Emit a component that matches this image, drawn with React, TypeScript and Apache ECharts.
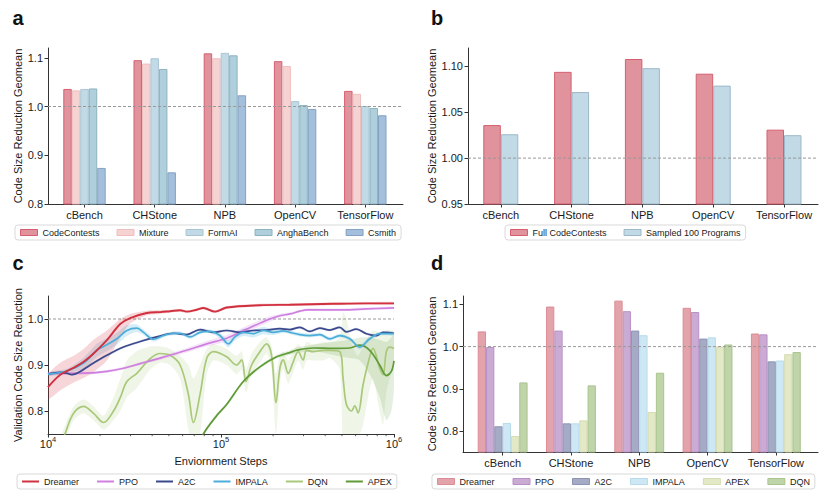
import React, { useEffect, useRef } from 'react';
import * as echarts from 'echarts';

// ---------------- data ----------------
const benchmarks = ['cBench', 'CHStone', 'NPB', 'OpenCV', 'TensorFlow'];

// panel a
const datasetNames = ['CodeContests', 'Mixture', 'FormAI', 'AnghaBench', 'Csmith'];
const codeContests = [1.036, 1.095, 1.109, 1.093, 1.032];
const mixture = [1.033, 1.088, 1.099, 1.083, 1.026];
const formAI = [1.036, 1.099, 1.110, 1.011, 1.001];
const anghaBench = [1.037, 1.077, 1.105, 1.003, 0.997];
const csmith = [0.874, 0.865, 1.023, 0.995, 0.982];

// panel b
const sampleNames = ['Full CodeContests', 'Sampled 100 Programs'];
const fullCodeContests = [1.036, 1.094, 1.108, 1.092, 1.031];
const sampled100 = [1.026, 1.072, 1.098, 1.079, 1.025];

// panel d
const barAlgoNames = ['Dreamer', 'PPO', 'A2C', 'IMPALA', 'APEX', 'DQN'];
const dreamerBar = [1.036, 1.095, 1.109, 1.092, 1.031];
const ppoBar = [0.999, 1.038, 1.084, 1.082, 1.029];
const a2cBar = [0.811, 0.818, 1.038, 1.019, 0.965];
const impalaBar = [0.819, 0.818, 1.027, 1.022, 0.967];
const apexBar = [0.788, 0.825, 0.845, 1.000, 0.982];
const dqnBar = [0.915, 0.908, 0.938, 1.005, 0.987];

// panel c : [steps, mean, lower, upper]
const lineAlgoNames = ['Dreamer', 'PPO', 'A2C', 'IMPALA', 'DQN', 'APEX'];
const dreamerCurve = [
  [10000, 0.852, 0.826, 0.878], [11780, 0.879, 0.845, 0.905], [14060, 0.894, 0.862, 0.92],
  [16060, 0.907, 0.872, 0.935], [18340, 0.925, 0.885, 0.955], [21900, 0.954, 0.91, 0.975],
  [26150, 0.989, 0.96, 1.0], [29850, 1.002, 0.99, 1.011], [37250, 1.013, 1.008, 1.018],
  [44470, 1.015, 1.011, 1.019], [50800, 1.017, 1.014, 1.02], [58010, 1.019, 1.016, 1.022],
  [63380, 1.016, 1.013, 1.019], [72380, 1.02, 1.017, 1.023], [79090, 1.024, 1.021, 1.027],
  [92350, 1.016, 1.013, 1.019], [107800, 1.025, 1.022, 1.028], [167900, 1.03, 1.027, 1.033],
  [250100, 1.031, 1.028, 1.034], [444700, 1.033, 1.03, 1.036], [692300, 1.034, 1.031, 1.037],
  [1000000, 1.034, 1.031, 1.037],
];
const ppoCurve = [
  [10000, 0.882, 0.879, 0.885], [14060, 0.882, 0.879, 0.885], [18340, 0.883, 0.88, 0.886],
  [21900, 0.886, 0.883, 0.889], [27330, 0.893, 0.89, 0.896], [34100, 0.903, 0.9, 0.906],
  [44470, 0.915, 0.911, 0.919], [63380, 0.932, 0.927, 0.937], [82650, 0.946, 0.94, 0.952],
  [107800, 0.958, 0.951, 0.965], [140600, 0.978, 0.971, 0.985], [191800, 1.0, 0.994, 1.006],
  [219000, 1.007, 1.003, 1.011], [250100, 1.011, 1.008, 1.014], [285700, 1.017, 1.014, 1.02],
  [312100, 1.02, 1.017, 1.023], [372600, 1.02, 1.017, 1.023], [507800, 1.02, 1.017, 1.023],
  [692300, 1.022, 1.019, 1.025], [1000000, 1.024, 1.021, 1.027],
];
const a2cCurve = [
  [10000, 0.88, 0.877, 0.883], [11780, 0.884, 0.881, 0.887], [12870, 0.882, 0.879, 0.885],
  [13750, 0.879, 0.876, 0.882], [15370, 0.886, 0.883, 0.889], [17550, 0.9, 0.897, 0.903],
  [21900, 0.921, 0.918, 0.924], [27330, 0.939, 0.936, 0.942], [34100, 0.951, 0.948, 0.954],
  [42540, 0.961, 0.958, 0.964], [53090, 0.969, 0.966, 0.972], [63380, 0.966, 0.963, 0.969],
  [75660, 0.977, 0.974, 0.98], [90320, 0.971, 0.968, 0.974], [107800, 0.975, 0.972, 0.978],
  [128700, 0.971, 0.968, 0.974], [153700, 0.975, 0.972, 0.978], [183400, 0.976, 0.973, 0.979],
  [219000, 0.979, 0.976, 0.982], [250100, 0.977, 0.974, 0.98], [285700, 0.982, 0.979, 0.985],
  [326200, 0.973, 0.97, 0.976], [372600, 0.98, 0.977, 0.983], [425500, 0.976, 0.973, 0.979],
  [485900, 0.982, 0.979, 0.985], [530900, 0.972, 0.969, 0.975], [606500, 0.978, 0.975, 0.981],
  [692300, 0.968, 0.965, 0.971], [790900, 0.964, 0.961, 0.967], [864100, 0.971, 0.968, 0.974],
  [1000000, 0.969, 0.966, 0.972],
];
const impalaCurve = [
  [10000, 0.88, 0.876, 0.884], [12870, 0.887, 0.882, 0.892], [16060, 0.904, 0.892, 0.916],
  [19170, 0.932, 0.918, 0.946], [21900, 0.944, 0.93, 0.958], [25010, 0.957, 0.944, 0.97],
  [28570, 0.975, 0.963, 0.987], [32620, 0.98, 0.972, 0.988], [35640, 0.971, 0.965, 0.977],
  [40700, 0.956, 0.951, 0.961], [46480, 0.964, 0.96, 0.968], [50800, 0.968, 0.964, 0.972],
  [58010, 0.969, 0.965, 0.973], [66270, 0.961, 0.957, 0.965], [75660, 0.971, 0.967, 0.975],
  [86400, 0.973, 0.969, 0.977], [98670, 0.964, 0.958, 0.97], [110200, 0.946, 0.938, 0.954],
  [120400, 0.961, 0.953, 0.969], [134500, 0.971, 0.963, 0.979], [153700, 0.968, 0.96, 0.976],
  [175500, 0.975, 0.967, 0.983], [200400, 0.971, 0.965, 0.977], [228900, 0.974, 0.97, 0.978],
  [250100, 0.971, 0.967, 0.975], [285700, 0.966, 0.962, 0.97], [326200, 0.964, 0.96, 0.968],
  [372600, 0.966, 0.962, 0.97], [425500, 0.957, 0.953, 0.961], [485900, 0.964, 0.96, 0.968],
  [554900, 0.957, 0.953, 0.961], [633900, 0.939, 0.934, 0.944], [723600, 0.957, 0.952, 0.962],
  [826500, 0.968, 0.964, 0.972], [1000000, 0.968, 0.964, 0.972],
];
const dqnCurve = [
  [11270, 0.70, 0.68, 0.72], [12590, 0.752, 0.735, 0.77], [14060, 0.795, 0.78, 0.81],
  [16060, 0.81, 0.795, 0.825], [18340, 0.795, 0.78, 0.81], [20960, 0.775, 0.76, 0.79],
  [23920, 0.80, 0.78, 0.83], [26150, 0.829, 0.80, 0.87], [28570, 0.864, 0.83, 0.91],
  [32620, 0.882, 0.85, 0.93], [38940, 0.914, 0.89, 0.94], [44470, 0.925, 0.905, 0.94],
  [50800, 0.921, 0.90, 0.935], [58010, 0.9, 0.87, 0.92], [64800, 0.836, 0.76, 0.90],
  [69250, 0.775, 0.72, 0.87], [75660, 0.836, 0.75, 0.90], [82650, 0.914, 0.88, 0.935],
  [90320, 0.929, 0.91, 0.945], [107800, 0.918, 0.90, 0.935], [123100, 0.9, 0.88, 0.92],
  [131600, 0.911, 0.89, 0.93], [139400, 0.864, 0.84, 0.89], [150300, 0.9, 0.88, 0.925],
  [167900, 0.929, 0.905, 0.95], [183400, 0.946, 0.925, 0.96], [196000, 0.921, 0.89, 0.94],
  [207700, 0.818, 0.75, 0.88], [219000, 0.893, 0.86, 0.92], [228900, 0.911, 0.89, 0.93],
  [244600, 0.882, 0.86, 0.91], [261500, 0.907, 0.885, 0.93], [279400, 0.929, 0.91, 0.945],
  [298500, 0.911, 0.89, 0.935], [312100, 0.932, 0.91, 0.95], [341000, 0.929, 0.91, 0.945],
  [389400, 0.932, 0.91, 0.95], [425500, 0.932, 0.915, 0.95], [485900, 0.929, 0.89, 0.96],
  [507800, 0.871, 0.70, 1.015], [530900, 0.814, 0.70, 1.0], [567300, 0.8, 0.70, 0.95],
  [593100, 0.811, 0.72, 0.93], [619900, 0.796, 0.74, 0.92], [662700, 0.857, 0.77, 0.94],
  [707900, 0.904, 0.83, 0.96], [756600, 0.936, 0.87, 0.975], [826500, 0.893, 0.80, 0.97],
  [864100, 0.879, 0.77, 0.97], [903200, 0.929, 0.84, 0.975], [944100, 0.939, 0.87, 0.975],
  [1000000, 0.936, 0.90, 0.97],
];
const apexCurve = [
  [69250, 0.70, 0.696, 0.704], [79090, 0.75, 0.746, 0.754], [94410, 0.79, 0.786, 0.794],
  [107800, 0.814, 0.81, 0.818], [134500, 0.864, 0.86, 0.868], [167900, 0.896, 0.892, 0.9],
  [209600, 0.918, 0.914, 0.922], [250100, 0.927, 0.922, 0.932], [273300, 0.932, 0.926, 0.938],
  [341000, 0.937, 0.93, 0.944], [444700, 0.936, 0.922, 0.95], [554900, 0.937, 0.915, 0.955],
  [633900, 0.943, 0.91, 0.96], [723600, 0.932, 0.88, 0.96], [826500, 0.90, 0.83, 0.955],
  [903200, 0.877, 0.78, 0.95], [965200, 0.886, 0.80, 0.96], [1000000, 0.909, 0.85, 0.965],
];
const minorTickSteps = [
  20000, 30000, 40000, 50000, 60000, 70000, 80000, 90000,
  200000, 300000, 400000, 500000, 600000, 700000, 800000, 900000,
];
const referenceLevel = 1.0;

// ---------------- styles ----------------
const FONT = "'Liberation Sans', Arial, Helvetica, sans-serif";
const AX = '#333333';
const TXT = '#1a1a1a';
const aFills = ['#e0939d', '#f5d3d3', '#c2dae5', '#aecfdb', '#a4bfdb'];
const aBorders = ['#d65f6f', '#f1bcbc', '#a9c5d3', '#8fb2c1', '#84a2c3'];
const bFills = ['#e0939d', '#c2dae5'];
const bBorders = ['#d65f6f', '#9db8c9'];
const dFills = ['#e2a3ab', '#caabd3', '#a6abc5', '#cde8f4', '#e3e8c6', '#bfd4a8'];
const dBorders = ['#dc8c97', '#b990c6', '#8d93b3', '#b7dbea', '#d6dcb3', '#a9c48f'];
const lineColors = ['#d1303f', '#cf7fe0', '#3b4a8e', '#4badd9', '#a9c87a', '#5f9b37'];
const bandColors = [
  'rgba(209,48,63,0.2)', 'rgba(207,127,224,0.2)', 'rgba(59,74,142,0.12)',
  'rgba(75,173,217,0.22)', 'rgba(169,200,122,0.18)', 'rgba(95,155,55,0.16)',
];

function frameX(gridIndex: number) {
  return {
    gridIndex, type: 'value', min: 0, max: 1,
    axisLine: { show: true, onZero: false, lineStyle: { color: AX, width: 1 } },
    axisTick: { show: false }, axisLabel: { show: false }, splitLine: { show: false },
  };
}
function catX(gridIndex: number) {
  return {
    gridIndex, type: 'category', data: benchmarks,
    axisLine: { show: false, onZero: false },
    axisTick: { show: true, alignWithLabel: true, interval: 0, length: 3.5, lineStyle: { color: AX } },
    axisLabel: { interval: 0, hideOverlap: false, fontSize: 11, color: TXT, margin: 5, fontFamily: FONT },
    splitLine: { show: false },
  };
}
function frameY(gridIndex: number, min: number, max: number, ticks: number[], digits: number, name: string, nameGap: number) {
  return {
    gridIndex, type: 'value', min, max, name, nameLocation: 'middle', nameGap,
    nameTextStyle: { fontSize: 11, color: TXT, fontFamily: FONT },
    axisLine: { show: true, onZero: false, lineStyle: { color: AX, width: 1 } },
    axisTick: { show: true, length: 3.5, customValues: ticks, lineStyle: { color: AX } },
    axisLabel: { customValues: ticks, formatter: (v: number) => v.toFixed(digits), fontSize: 11, color: TXT, margin: 5, fontFamily: FONT },
    splitLine: { show: false },
  };
}
function hiddenY(gridIndex: number, min: number, max: number) {
  return { gridIndex, type: 'value', min, max, show: false, splitLine: { show: false } };
}
function bars(name: string, data: number[], fill: string, border: string, axis: number, catGap: string) {
  return {
    type: 'bar', name, data, xAxisIndex: axis, yAxisIndex: axis,
    barGap: '0%', barCategoryGap: catGap, z: 2,
    itemStyle: { color: fill, borderColor: border, borderWidth: 1 },
  };
}
function refLine(axis: number, x0: number, x1: number, z: number) {
  return {
    type: 'line', data: [[x0, referenceLevel], [x1, referenceLevel]], xAxisIndex: axis, yAxisIndex: axis,
    symbol: 'none', silent: true, z,
    lineStyle: { color: '#999', width: 1, type: [3, 2] },
  };
}
function band(pts: number[][], color: string) {
  return {
    type: 'custom', xAxisIndex: 4, yAxisIndex: 4, silent: true, z: 1,
    data: pts.map((p) => [p[0], p[1]]),
    renderItem: (params: any, api: any) => {
      if (params.dataIndex !== 0) return null;
      const top = pts.map((p) => api.coord([p[0], p[3]]));
      const bot = pts.map((p) => api.coord([p[0], p[2]])).reverse();
      const cs = params.coordSys;
      return {
        type: 'polygon',
        shape: { points: top.concat(bot), smooth: 0.25 },
        style: { fill: color },
        clipPath: { type: 'rect', shape: { x: cs.x, y: cs.y, width: cs.width, height: cs.height } },
      };
    },
  };
}
function curve(name: string, pts: number[][], color: string, width: number) {
  return {
    type: 'line', name, data: pts.map((p) => [p[0], p[1]]), xAxisIndex: 4, yAxisIndex: 4,
    symbol: 'none', smooth: 0.35, z: 3, clip: true,
    lineStyle: { color, width }, itemStyle: { color },
  };
}
function legendBase(left: number, top: number, gap: number) {
  return {
    left, top, orient: 'horizontal', itemWidth: 17, itemHeight: 6, itemGap: gap,
    padding: [3, 5, 3, 5], borderColor: '#d9d9d9', borderWidth: 1, borderRadius: 3,
    selectedMode: false, textStyle: { fontSize: 9, color: TXT, fontFamily: FONT },
  };
}

function buildOption() {
  const curves = [dreamerCurve, ppoCurve, a2cCurve, impalaCurve, dqnCurve, apexCurve];
  const aVals = [codeContests, mixture, formAI, anghaBench, csmith];
  const bVals = [fullCodeContests, sampled100];
  const dVals = [dreamerBar, ppoBar, a2cBar, impalaBar, apexBar, dqnBar];
  const drawOrder = [4, 5, 1, 2, 3, 0];

  const series: any[] = [];
  aVals.forEach((v, i) => series.push(bars(datasetNames[i], v, aFills[i], aBorders[i], 1, '39.6%')));
  series.push(refLine(0, 0, 1, 5));
  bVals.forEach((v, i) => series.push(bars(sampleNames[i], v, bFills[i], bBorders[i], 3, '50.6%')));
  series.push(refLine(2, 0, 1, 5));
  // panel c
  series.push(refLine(4, 10000, 1000000, 0));
  drawOrder.forEach((i) => series.push(band(curves[i], bandColors[i])));
  drawOrder.forEach((i) => series.push(curve(lineAlgoNames[i], curves[i], lineColors[i], i === 0 ? 1.9 : 1.7)));
  series.push({
    type: 'custom', xAxisIndex: 4, yAxisIndex: 4, silent: true, z: 6,
    data: minorTickSteps.map((s) => [s, 0.75]),
    renderItem: (params: any, api: any) => {
      const p = api.coord([api.value(0), api.value(1)]);
      return { type: 'line', shape: { x1: p[0], y1: p[1], x2: p[0], y2: p[1] + 2.2 }, style: { stroke: AX, lineWidth: 0.8 } };
    },
  });
  dVals.forEach((v, i) => series.push(bars(barAlgoNames[i] , v, dFills[i], dBorders[i], 6, '27%')));
  series.push(refLine(5, 0, 1, 5));

  const logLabel = {
    formatter: (v: number) => `{b|10}{s|${Math.round(Math.log10(v))}}`,
    margin: 1,
    rich: {
      b: { fontSize: 11, color: TXT, fontFamily: FONT, lineHeight: 14, verticalAlign: 'bottom' },
      s: { fontSize: 7.5, color: TXT, fontFamily: FONT, lineHeight: 7.5, verticalAlign: 'top' },
    },
  };

  return {
    animation: false,
    textStyle: { fontFamily: FONT },
    grid: [
      { left: 48, top: 48, width: 355, height: 156 },
      { left: 49.4, top: 48, width: 351, height: 156 },
      { left: 468, top: 48, width: 350, height: 156 },
      { left: 465.4, top: 48, width: 354, height: 156 },
      { left: 48, top: 296, width: 346, height: 138 },
      { left: 463, top: 296, width: 355, height: 156 },
      { left: 468.5, top: 296, width: 341.5, height: 156 },
    ],
    xAxis: [
      frameX(0), catX(1), frameX(2), catX(3),
      {
        gridIndex: 4, type: 'log', logBase: 10, min: 10000, max: 1000000,
        name: 'Enviornment Steps', nameLocation: 'middle', nameGap: 21,
        nameTextStyle: { fontSize: 11, color: TXT, fontFamily: FONT },
        axisLine: { show: true, onZero: false, lineStyle: { color: AX, width: 1 } },
        axisTick: { show: true, length: 3.5, lineStyle: { color: AX } },
        minorTick: { show: false }, splitLine: { show: false }, minorSplitLine: { show: false },
        axisLabel: logLabel,
      },
      frameX(5), catX(6),
    ],
    yAxis: [
      frameY(0, 0.8, 1.12, [0.8, 0.9, 1.0, 1.1], 1, 'Code Size Reduction Geomean', 25),
      hiddenY(1, 0.8, 1.12),
      frameY(2, 0.95, 1.12, [0.95, 1.0, 1.05, 1.1], 2, 'Code Size Reduction Geomean', 31),
      hiddenY(3, 0.95, 1.12),
      frameY(4, 0.75, 1.05, [0.8, 0.9, 1.0], 1, 'Validation Code Size Reduction', 25),
      frameY(5, 0.75, 1.12, [0.8, 0.9, 1.0, 1.1], 1, 'Code Size Reduction Geomean', 26),
      hiddenY(6, 0.75, 1.12),
    ],
    legend: [
      { ...legendBase(15, 225, 17), data: datasetNames.map((n, i) => ({ name: n, icon: 'rect', itemStyle: { color: aFills[i], borderColor: aBorders[i], borderWidth: 1 } })) },
      { ...legendBase(505, 225, 17), data: sampleNames.map((n, i) => ({ name: n, icon: 'rect', itemStyle: { color: bFills[i], borderColor: bBorders[i], borderWidth: 1 } })) },
      { ...legendBase(17, 474, 18), itemHeight: 2, data: lineAlgoNames.map((n, i) => ({ name: n, icon: 'rect', itemStyle: { color: lineColors[i], borderWidth: 0 } })) },
      { ...legendBase(432, 474, 18), data: barAlgoNames.map((n, i) => ({ name: n, icon: 'rect', itemStyle: { color: dFills[i], borderColor: dBorders[i], borderWidth: 1 } })) },
    ],
    graphic: [
      { type: 'text', x: 12.5, y: 18, style: { text: 'a', fontSize: 20, fontWeight: 'bold', fontFamily: FONT, fill: '#111', verticalAlign: 'middle' } },
      { type: 'text', x: 431, y: 18, style: { text: 'b', fontSize: 20, fontWeight: 'bold', fontFamily: FONT, fill: '#111', verticalAlign: 'middle' } },
      { type: 'text', x: 12.5, y: 262.5, style: { text: 'c', fontSize: 20, fontWeight: 'bold', fontFamily: FONT, fill: '#111', verticalAlign: 'middle' } },
      { type: 'text', x: 431, y: 262.5, style: { text: 'd', fontSize: 20, fontWeight: 'bold', fontFamily: FONT, fill: '#111', verticalAlign: 'middle' } },
    ],
    series,
  };
}

export default function App() {
  const ref = useRef<HTMLDivElement>(null);
  useEffect(() => {
    document.body.style.margin = '0';
    const chart = echarts.init(ref.current as HTMLDivElement, null, { renderer: 'svg' });
    chart.setOption(buildOption() as any);
    return () => chart.dispose();
  }, []);
  return <div ref={ref} style={{ width: 830, height: 491 }} />;
}
